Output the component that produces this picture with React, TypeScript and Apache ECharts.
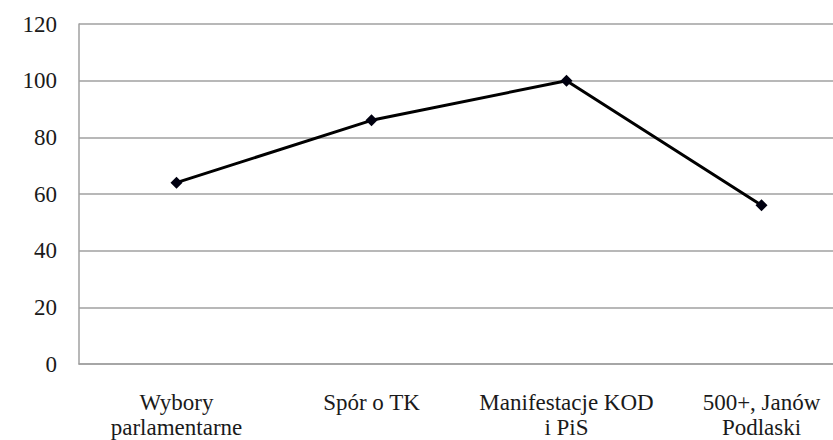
import React, { useEffect, useRef } from "react";
import * as echarts from "echarts";

const categories = ["Wybory\nparlamentarne", "Spór o TK", "Manifestacje KOD\ni PiS", "500+, Janów\nPodlaski"];
const values = [64, 86, 100, 56];
const yTicks = { min: 0, max: 120, interval: 20 };

export default function App() {
  const ref = useRef<HTMLDivElement>(null);
  useEffect(() => {
    if (!ref.current) return;
    const chart = echarts.init(ref.current, null, { renderer: "svg" });
    const font = "Liberation Serif";
    chart.setOption({
      animation: false,
      backgroundColor: "#ffffff",
      textStyle: { fontFamily: font },
      grid: { left: 79, top: 24, right: -26, bottom: 76, containLabel: false, outerBoundsMode: "none" },
      xAxis: {
        type: "category",
        data: categories,
        boundaryGap: true,
        axisLine: { show: true, lineStyle: { color: "#a0a0a0", width: 1.5 } },
        axisTick: { show: false },
        axisLabel: {
          interval: 0,
          margin: 26,
          fontFamily: font,
          fontSize: 23,
          lineHeight: 25,
          color: "#1a1a1a",
        },
        splitLine: { show: false },
      },
      yAxis: {
        type: "value",
        min: yTicks.min,
        max: yTicks.max,
        interval: yTicks.interval,
        axisLine: { show: true, lineStyle: { color: "#a0a0a0", width: 1.5 } },
        axisTick: { show: false },
        axisLabel: {
          margin: 22,
          fontFamily: font,
          fontSize: 23,
          color: "#1a1a1a",
        },
        splitLine: { show: true, lineStyle: { color: "#a0a0a0", width: 1.5 } },
      },
      series: [
        {
          type: "line",
          data: values,
          symbol: "diamond",
          symbolSize: 12,
          itemStyle: { color: "#000010" },
          lineStyle: { color: "#000000", width: 3 },
        },
      ],
    });
    return () => chart.dispose();
  }, []);
  return <div ref={ref} style={{ width: 833, height: 440, position: "absolute", left: 0, top: 0 }} />;
}
